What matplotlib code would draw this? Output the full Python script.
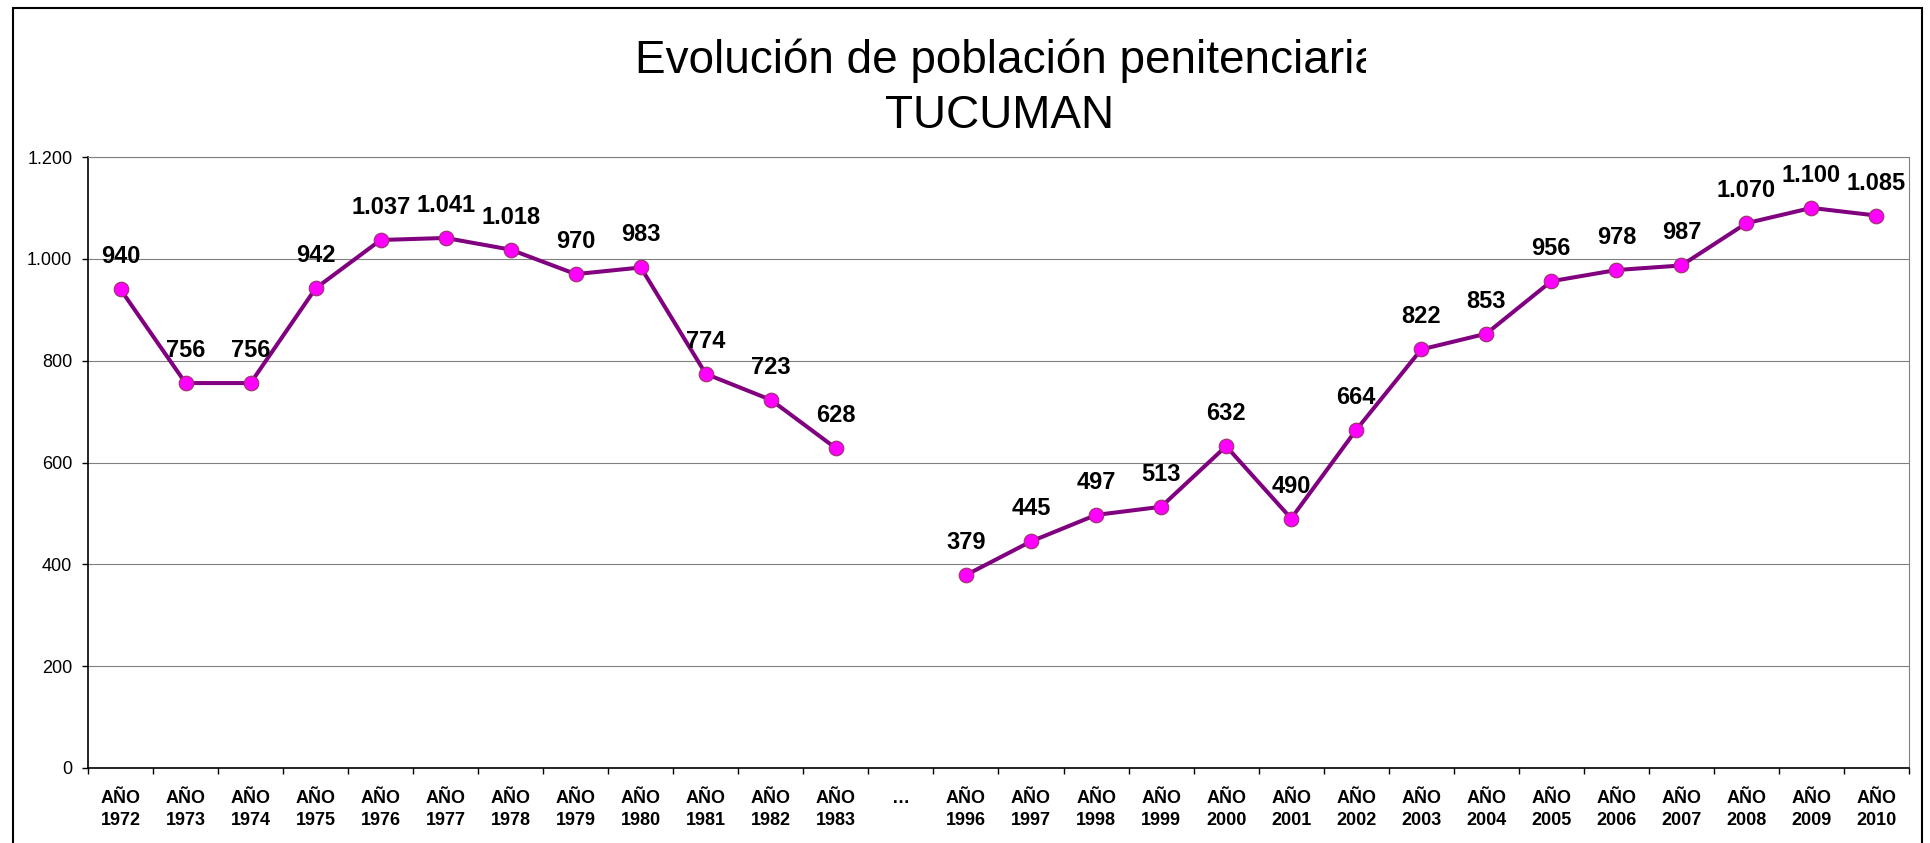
import matplotlib.pyplot as plt
from matplotlib.patches import Rectangle
from matplotlib.ticker import FuncFormatter
import numpy as np

plt.rcParams['font.family'] = ['Liberation Sans', 'DejaVu Sans']

# años de la serie; None marca el tramo sin datos (1984-1995)
years = ['1972', '1973', '1974', '1975', '1976', '1977', '1978', '1979',
         '1980', '1981', '1982', '1983', None, '1996', '1997', '1998',
         '1999', '2000', '2001', '2002', '2003', '2004', '2005', '2006',
         '2007', '2008', '2009', '2010']
internos = [940, 756, 756, 942, 1037, 1041, 1018, 970, 983, 774, 723, 628,
            np.nan, 379, 445, 497, 513, 632, 490, 664, 822, 853, 956, 978,
            987, 1070, 1100, 1085]
etiquetas = ['AÑO\n' + y if y else '…' for y in years]
y_ticks = [0, 200, 400, 600, 800, 1000, 1200]


def miles(v):
    return f'{v:,.0f}'.replace(',', '.')


W, H = 1930, 843
fig = plt.figure(figsize=(W / 100, H / 100), dpi=100)
ax = fig.add_axes([88 / W, (H - 768) / H, (1909 - 88) / W, (768 - 157) / H])

x = np.arange(len(internos))
ax.plot(x, internos, color='#800080', lw=2.9, marker='o', ms=10.5,
        mfc='#FF00FF', mec='#993366', mew=0.8, zorder=3)
for xi, v in zip(x, internos):
    if np.isnan(v):
        continue
    ax.annotate(miles(v), (xi, v), xytext=(0, 23.4), textcoords='offset points',
                ha='center', va='center', fontsize=17, fontweight='bold')

ax.set_xlim(-0.5, len(internos) - 0.5)
ax.set_ylim(0, 1200)
ax.set_yticks(y_ticks)
ax.yaxis.set_major_formatter(FuncFormatter(lambda v, p: miles(v)))

# marcas entre categorías, rótulos centrados
ax.set_xticks(np.arange(len(internos) + 1) - 0.5)
ax.set_xticklabels([])
ax.set_xticks(x, minor=True)
ax.set_xticklabels(etiquetas, minor=True, fontsize=13, fontweight='bold')
for lbl in ax.get_xticklabels(minor=True):
    lbl.set_linespacing(1.4)
ax.tick_params(axis='x', which='minor', length=0, pad=15.5)
ax.tick_params(axis='x', which='major', length=4.3, width=1, color='black')
ax.tick_params(axis='y', length=4.3, width=1, pad=7, labelsize=13)

ax.yaxis.grid(True, color='#808080', lw=0.8)
ax.set_axisbelow(True)
for s in ('top', 'right'):
    ax.spines[s].set_color('#808080')
    ax.spines[s].set_linewidth(0.8)
for s in ('left', 'bottom'):
    ax.spines[s].set_color('black')
    ax.spines[s].set_linewidth(1.2)

# la primera línea del título queda recortada por su recuadro
t1 = fig.text(635 / W, 1 - 73 / H, 'Evolución de población penitenciaria',
              ha='left', va='baseline', fontsize=33)
t1.set_clip_path(Rectangle((0, 0), 1366 / W, 1, transform=fig.transFigure))
fig.text(1000 / W, 1 - 128 / H, 'TUCUMAN', ha='center', va='baseline', fontsize=33)

fig.add_artist(Rectangle((13 / W, -0.05), (1922 - 13) / W, (H - 8) / H + 0.05,
                         transform=fig.transFigure, fill=False, ec='black', lw=1.5))

fig.savefig('out.png', dpi=100)
